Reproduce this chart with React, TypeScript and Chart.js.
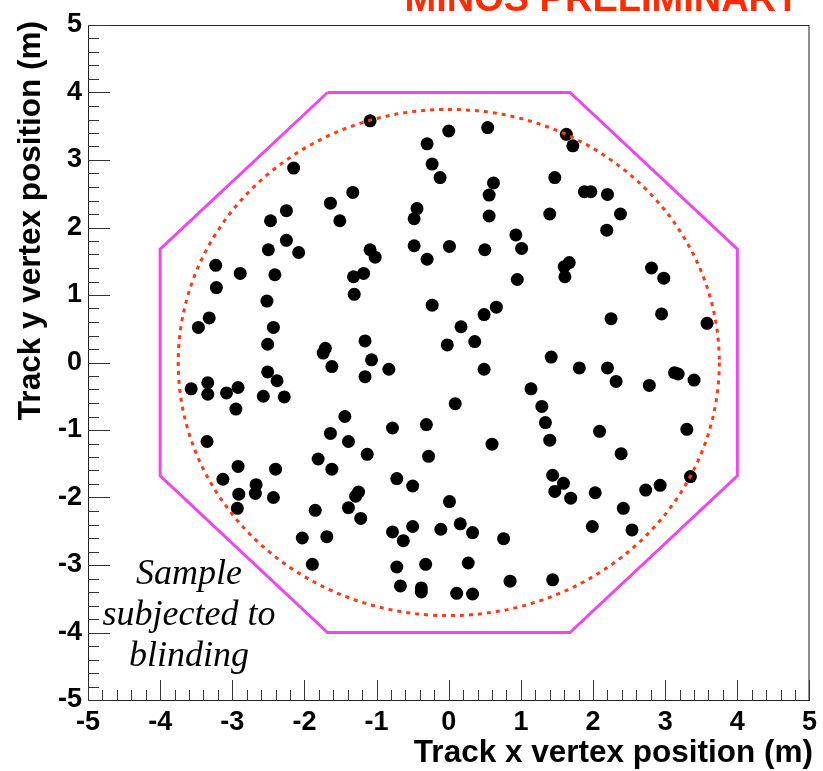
import React, { useEffect, useRef } from "react";
import { Chart, registerables } from "chart.js";
Chart.register(...registerables);

// Vertex positions (m)
const VERTEX_X = [
  -2.15, -1.33, -1.64, -2.25, -2.47, -1.51, -2.25, -2.5, -2.08, -3.23, -2.89, -2.41, -1.32,
  -1.09, 0.0, 0.54, -0.3, -0.23, -0.12, 0.62, 0.56, -0.44, -0.48, 0.56, 0.93, 1.01, -0.48, 0.01, 0.5, -0.3, -1.09, -1.02, -1.18, 0.95,
  1.63, 1.72, 1.47, 1.88, 1.97, 2.2, 1.4, 2.38, 2.19, 1.67, 1.6, 1.61, 2.81, 2.98,
  -3.22, -2.52, -1.31, -3.32, -3.47, -2.43, -2.51, -1.71, -1.74, -1.62, -1.16, -2.51, -2.38, -3.57, -3.34, -3.34, -3.08, -2.92, -2.57, -2.28, -2.95, -1.44, -1.64, -1.39, -3.35,
  -0.23, 0.66, 0.49, 0.17, -0.02, 0.36, -1.16, -1.07, -0.83, 0.49, 1.14, 1.29, 1.34, 1.4, 0.09, -0.78, -0.31, 0.6,
  2.25, 2.95, 3.58, 1.42, 1.81, 2.2, 2.32, 2.78, 3.13, 3.18, 3.4, 2.09, 3.3,
  -2.92, -2.4, -1.81, -1.62, -3.13, -2.67, -2.68, -2.91, -2.43, -2.93, -1.85, -1.25, -1.29, -1.39, -1.22, -2.03, -1.69, -1.89,
  -1.13, -0.28, -0.72, -0.5, 0.01, -0.78, -0.63, -0.5, -0.11, 0.16, 0.33, 0.76, -0.72, -0.32, 0.27, 0.85, -0.67, -0.38, -0.38, 0.11, 0.33,
  2.39, 1.44, 1.59, 1.47, 1.69, 2.03, 2.73, 2.93, 3.35, 2.42, 1.99, 2.54, 1.44,
];
const VERTEX_Y = [
  2.88, 2.52, 2.36, 2.25, 2.1, 2.1, 1.81, 1.67, 1.63, 1.44, 1.32, 1.3, 1.27,
  3.58, 3.43, 3.48, 3.24, 2.94, 2.74, 2.66, 2.48, 2.28, 2.13, 2.17, 1.89, 1.69, 1.73, 1.72, 1.67, 1.53, 1.67, 1.56, 1.32, 1.23,
  3.38, 3.21, 2.74, 2.53, 2.53, 2.49, 2.2, 2.2, 1.96, 1.48, 1.42, 1.27, 1.4, 1.25,
  1.11, 0.91, 1.01, 0.66, 0.52, 0.52, 0.27, 0.21, 0.14, -0.06, -0.21, -0.14, -0.27, -0.39, -0.3, -0.47, -0.45, -0.37, -0.5, -0.51, -0.69, -0.8, -1.05, -1.17, -1.17,
  0.85, 0.82, 0.71, 0.53, 0.26, 0.31, 0.32, 0.04, -0.1, -0.1, -0.39, -0.65, -0.89, -1.15, -0.61, -0.97, -0.92, -1.21,
  0.65, 0.72, 0.58, 0.08, -0.08, -0.08, -0.28, -0.34, -0.15, -0.17, -0.26, -1.02, -0.99,
  -1.54, -1.58, -1.43, -1.58, -1.73, -1.81, -1.94, -1.95, -2.0, -2.16, -2.19, -1.92, -1.98, -2.15, -2.31, -2.6, -2.58, -2.99,
  -1.36, -1.39, -1.72, -1.83, -2.06, -2.51, -2.64, -2.43, -2.47, -2.39, -2.52, -2.61, -3.03, -2.99, -2.97, -3.24, -3.31, -3.34, -3.4, -3.42, -3.43,
  -1.35, -1.67, -1.79, -1.91, -2.01, -1.93, -1.89, -1.82, -1.69, -2.16, -2.43, -2.48, -3.22,
];

// Detector octagon outline (m)
const OCT_X = [-1.68, 1.68, 4, 4, 1.68, -1.68, -4, -4, -1.68];
const OCT_Y = [4, 4, 1.68, -1.68, -4, -4, -1.68, 1.68, 4];
// Fiducial circle radius (m)
const CIRCLE_R = 3.75;

const AXIS_MIN = -5;
const AXIS_MAX = 5;
const TICK_VALUES = [-5, -4, -3, -2, -1, 0, 1, 2, 3, 4, 5];

const TITLE = "MINOS PRELIMINARY";
const X_TITLE = "Track x vertex position (m)";
const Y_TITLE = "Track y vertex position (m)";
const NOTE_LINES = ["Sample", "subjected to", "blinding"];

const SANS = '"Liberation Sans", Arial, Helvetica, sans-serif';
const SERIF = '"Liberation Serif", "Times New Roman", serif';

const decorPlugin = {
  id: "decor",
  beforeDatasetsDraw(chart: any) {
    const { ctx, chartArea, scales } = chart;
    const { left, right, top, bottom } = chartArea;
    ctx.save();
    ctx.strokeStyle = "#222";
    ctx.lineWidth = 1;
    ctx.strokeRect(left + 0.5, top + 0.5, right - left - 1, bottom - top);
    ctx.strokeStyle = "#333";
    for (let i = 0; i <= 50; i++) {
      const v = AXIS_MIN + i * 0.2;
      const major = i % 5 === 0;
      const px = Math.round(scales.x.getPixelForValue(v)) + 0.5;
      const lx = major ? 20 : 10;
      ctx.beginPath();
      ctx.moveTo(px, bottom);
      ctx.lineTo(px, bottom - lx);
      ctx.stroke();
      const py = Math.round(scales.y.getPixelForValue(v)) + 0.5;
      const ly = major ? 22 : 11;
      ctx.beginPath();
      ctx.moveTo(left, py);
      ctx.lineTo(left + ly, py);
      ctx.stroke();
    }
    ctx.restore();
  },
  afterDatasetsDraw(chart: any) {
    const { ctx, scales } = chart;
    const cx = scales.x.getPixelForValue(0);
    const cy = scales.y.getPixelForValue(0);
    const rx = scales.x.getPixelForValue(CIRCLE_R) - cx;
    const ry = cy - scales.y.getPixelForValue(CIRCLE_R);
    ctx.save();
    ctx.strokeStyle = "#ff3a10";
    ctx.lineWidth = 3;
    ctx.setLineDash([4, 5]);
    ctx.beginPath();
    ctx.ellipse(cx, cy, rx, ry, 0, 0, Math.PI * 2);
    ctx.stroke();
    ctx.restore();
  },
  afterDraw(chart: any) {
    const { ctx } = chart;
    ctx.save();
    ctx.fillStyle = "#ff2a00";
    ctx.font = `bold 38px ${SANS}`;
    ctx.textAlign = "right";
    ctx.textBaseline = "alphabetic";
    ctx.fillText(TITLE, 800, 11);

    ctx.fillStyle = "#000";
    ctx.font = `bold 31.5px ${SANS}`;
    ctx.textAlign = "right";
    ctx.fillText(X_TITLE, 813, 762);

    ctx.save();
    ctx.translate(40, 21);
    ctx.rotate(-Math.PI / 2);
    ctx.textAlign = "right";
    ctx.fillText(Y_TITLE, 0, 0);
    ctx.restore();

    ctx.font = `italic 36px ${SERIF}`;
    ctx.textAlign = "center";
    const ys = [584, 625, 666];
    NOTE_LINES.forEach((t, i) => ctx.fillText(t, 189, ys[i]));
    ctx.restore();
  },
};

export default function App() {
  const ref = useRef<HTMLCanvasElement | null>(null);
  useEffect(() => {
    if (!ref.current) return;
    const points = VERTEX_X.map((x, i) => ({ x, y: VERTEX_Y[i] }));
    const octagon = OCT_X.map((x, i) => ({ x, y: OCT_Y[i] }));
    const tickFont = { family: SANS, size: 27, weight: "bold" as const };
    const chart = new Chart(ref.current, {
      type: "scatter",
      data: {
        datasets: [
          {
            label: "vertices",
            data: points,
            pointRadius: 6.5,
            pointBackgroundColor: "#000",
            pointBorderWidth: 0,
            showLine: false,
          },
          {
            label: "octagon",
            data: octagon,
            showLine: true,
            borderColor: "#f046f0",
            borderWidth: 3,
            pointRadius: 0,
            fill: false,
          },
        ],
      },
      options: {
        responsive: false,
        animation: false,
        events: [],
        layout: { padding: { top: 25, right: 10, left: 2, bottom: 0 } },
        plugins: { legend: { display: false }, tooltip: { enabled: false }, title: { display: false } },
        scales: {
          x: {
            type: "linear",
            min: AXIS_MIN,
            max: AXIS_MAX,
            afterBuildTicks: (s: any) => {
              s.ticks = TICK_VALUES.map((v) => ({ value: v }));
            },
            afterFit: (s: any) => {
              s.height = 71;
            },
            grid: { display: false, drawTicks: false },
            border: { display: true, color: "#222", width: 1 },
            ticks: { font: tickFont, color: "#000", padding: 6, maxRotation: 0, autoSkip: false },
          },
          y: {
            type: "linear",
            min: AXIS_MIN,
            max: AXIS_MAX,
            afterBuildTicks: (s: any) => {
              s.ticks = TICK_VALUES.map((v) => ({ value: v }));
            },
            afterFit: (s: any) => {
              s.width = 86;
            },
            grid: { display: false, drawTicks: false },
            border: { display: true, color: "#222", width: 1 },
            ticks: { font: tickFont, color: "#000", padding: 6, autoSkip: false },
          },
        },
      },
      plugins: [decorPlugin],
    });
    return () => chart.destroy();
  }, []);
  return (
    <div style={{ position: "absolute", left: 0, top: 0, width: 823, height: 771, background: "#fff" }}>
      <canvas ref={ref} width={823} height={771} style={{ display: "block" }} />
    </div>
  );
}
